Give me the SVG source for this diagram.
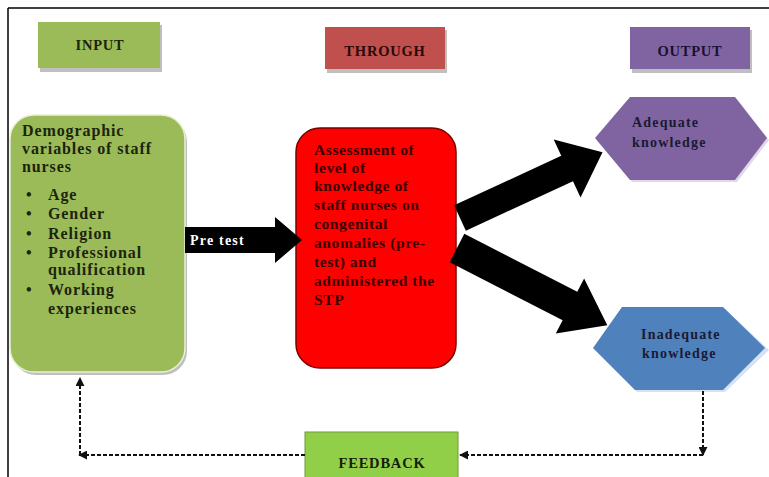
<svg xmlns="http://www.w3.org/2000/svg" width="769" height="477" viewBox="0 0 769 477">
<style>
.t{font-family:"Liberation Serif","Times New Roman",serif;font-weight:bold}
.hdr{font-size:14.5px;text-anchor:middle;letter-spacing:0.8px}
.g{font-size:16px;fill:#1c240c;letter-spacing:0.9px}
.r{font-size:15.5px;fill:#3a0000;letter-spacing:0.6px}
.h{font-size:14px;fill:#1a1a33;letter-spacing:1.2px}
.dash{fill:none;stroke:#111;stroke-width:2;stroke-dasharray:4 2}
.shadow{fill:#bfbfbf}
</style>
<defs>
<marker id="ah" viewBox="0 0 10 10" refX="9" refY="5" markerWidth="4.5" markerHeight="4.5" orient="auto" markerUnits="strokeWidth">
<path d="M0,0 L10,5 L0,10 z" fill="#111"/>
</marker>
</defs>
<rect width="769" height="477" fill="#ffffff"/>
<g id="frame">
<line x1="8" y1="8" x2="769" y2="8" stroke="#000" stroke-width="1.5"/>
<line x1="8" y1="8" x2="8" y2="477" stroke="#000" stroke-width="1.5"/>
</g>
<g id="input-label">
<rect x="40" y="25" width="122" height="47" class="shadow"/>
<rect x="38" y="22" width="122" height="46" fill="#9bbb59"/>
<text x="100" y="50" class="t hdr" fill="#1a2408">INPUT</text>
</g>
<g id="through-label">
<rect x="327" y="30" width="120" height="43" class="shadow"/>
<rect x="325" y="27" width="120" height="42" fill="#c0504d"/>
<text x="385" y="56" class="t hdr" fill="#2a0808">THROUGH</text>
</g>
<g id="output-label">
<rect x="632" y="30" width="120" height="43" class="shadow"/>
<rect x="630" y="27" width="120" height="42" fill="#8064a2"/>
<text x="690" y="56" class="t hdr" fill="#1a1030">OUTPUT</text>
</g>
<g id="input-box">
<rect x="12" y="118" width="175" height="257" rx="24" class="shadow"/>
<rect x="10" y="115" width="175" height="257" rx="24" fill="#9bbb59" stroke="#e8f0d8" stroke-width="1.5"/>
<text class="t g">
<tspan x="22" y="136">Demographic</tspan>
<tspan x="22" y="154">variables of staff</tspan>
<tspan x="22" y="172">nurses</tspan>
<tspan x="26" y="200">•</tspan><tspan x="48" y="200">Age</tspan>
<tspan x="26" y="219">•</tspan><tspan x="48" y="219">Gender</tspan>
<tspan x="26" y="239">•</tspan><tspan x="48" y="239">Religion</tspan>
<tspan x="26" y="258">•</tspan><tspan x="48" y="258">Professional</tspan>
<tspan x="48" y="275">qualification</tspan>
<tspan x="26" y="295">•</tspan><tspan x="48" y="295">Working</tspan>
<tspan x="48" y="314">experiences</tspan>
</text>
</g>
<g id="through-box">
<rect x="296" y="128" width="160" height="240" rx="24" fill="#ff0000" stroke="#7a0000" stroke-width="1.5"/>
<text class="t r">
<tspan x="314" y="155">Assessment of</tspan>
<tspan x="314" y="173">level of</tspan>
<tspan x="314" y="191">knowledge of</tspan>
<tspan x="314" y="210">staff nurses on</tspan>
<tspan x="314" y="229">congenital</tspan>
<tspan x="314" y="248">anomalies (pre-</tspan>
<tspan x="314" y="267">test) and</tspan>
<tspan x="314" y="286">administered the</tspan>
<tspan x="314" y="305">STP</tspan>
</text>
</g>
<g id="adequate">
<polygon points="597,140 632,99 737,99 769,140 737,182 632,182" fill="#e0d8ea"/>
<polygon points="595,138 630,97 735,97 767,138 735,180 630,180" fill="#8064a2"/>
<text class="t h"><tspan x="632" y="127">Adequate</tspan><tspan x="632" y="147">knowledge</tspan></text>
</g>
<g id="inadequate">
<polygon points="595,350 624,309 725,309 769,350 725,392 637,392" fill="#d6e2f0"/>
<polygon points="593,348 622,307 723,307 765,348 723,390 635,390" fill="#4f81bd"/>
<text class="t h"><tspan x="641" y="339">Inadequate</tspan><tspan x="642" y="358">knowledge</tspan></text>
</g>
<g id="feedback">
<rect x="305" y="432" width="153" height="50" fill="#92cf48" stroke="#6e9a30" stroke-width="1"/>
<text x="382" y="468" class="t hdr" fill="#142008">FEEDBACK</text>
</g>
<g id="connectors">
<polygon points="185,227 275,227 275,217 302,240 275,263 275,253 185,253" fill="#000"/>
<text x="190" y="245" class="t" font-size="14" letter-spacing="1.2" fill="#ffffff">Pre test</text>
<polygon transform="translate(460,218) rotate(-24.8)" points="0,-14 118,-14 118,-32 157,0 118,32 118,14 0,14" fill="#000"/>
<polygon transform="translate(457,248) rotate(27.2)" points="0,-16 127,-16 127,-31 169,0 127,31 127,16 0,16" fill="#000"/>
<line x1="703" y1="391" x2="703" y2="455" class="dash" marker-end="url(#ah)"/>
<line x1="703" y1="455" x2="460" y2="455" class="dash" marker-end="url(#ah)"/>
<line x1="305" y1="455" x2="79" y2="455" class="dash" marker-end="url(#ah)"/>
<line x1="80" y1="455" x2="80" y2="378" class="dash" marker-end="url(#ah)"/>
</g>
</svg>
